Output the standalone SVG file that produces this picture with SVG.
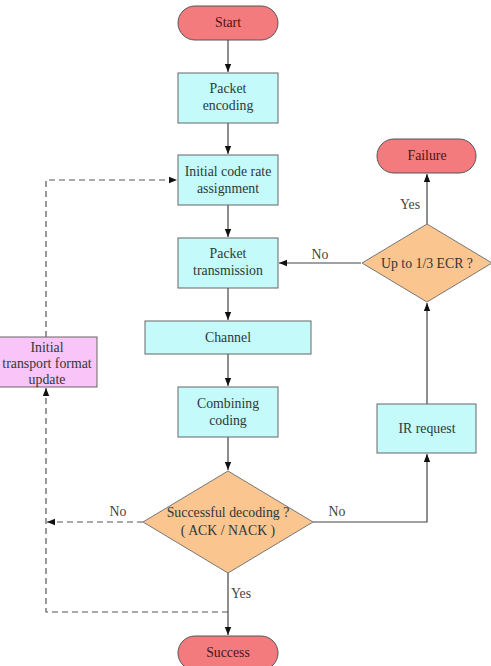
<svg xmlns="http://www.w3.org/2000/svg" width="491" height="666" viewBox="0 0 491 666">
<defs>
<style>
.term{fill:#F47B7D;stroke:#555;stroke-width:1}
.proc{fill:#C4FAFA;stroke:#666;stroke-width:1}
.dec{fill:#FBC590;stroke:#777;stroke-width:1}
.upd{fill:#F9C4F8;stroke:#666;stroke-width:1}
text{font-family:"Liberation Serif","Times New Roman",serif;font-size:13.8px;fill:#2e3838;text-anchor:middle}
.tt{fill:#4a1515}
.lbl{fill:#444}
.ln{fill:none;stroke:#444;stroke-width:1.2}
.dash{fill:none;stroke:#555;stroke-width:1.2;stroke-dasharray:6,4}
</style>
<marker id="ah" viewBox="0 0 10 10" refX="10" refY="5" markerWidth="8" markerHeight="8" markerUnits="userSpaceOnUse" orient="auto">
<path d="M0,1 L10,5 L0,9 Z" fill="#111"/>
</marker>
</defs>
<rect width="491" height="666" fill="#fff"/>
<g id="connectors">
<line class="ln" x1="228" y1="40" x2="228" y2="72" marker-end="url(#ah)"/>
<line class="ln" x1="228" y1="123" x2="228" y2="154" marker-end="url(#ah)"/>
<line class="ln" x1="228" y1="205" x2="228" y2="237" marker-end="url(#ah)"/>
<line class="ln" x1="228" y1="288" x2="228" y2="320" marker-end="url(#ah)"/>
<line class="ln" x1="228" y1="354" x2="228" y2="386" marker-end="url(#ah)"/>
<line class="ln" x1="228" y1="437" x2="228" y2="470" marker-end="url(#ah)"/>
<line class="ln" x1="228" y1="573" x2="228" y2="635" marker-end="url(#ah)"/>
<line class="ln" x1="361" y1="263" x2="279" y2="263" marker-end="url(#ah)"/>
<line class="ln" x1="427" y1="224" x2="427" y2="174" marker-end="url(#ah)"/>
<line class="ln" x1="427" y1="404" x2="427" y2="303" marker-end="url(#ah)"/>
<polyline class="ln" points="313,522 427,522 427,454" marker-end="url(#ah)"/>
<polyline class="dash" points="46,337 46,180 177,180" marker-end="url(#ah)"/>
<polyline class="dash" points="228,612 46,612 46,388" marker-end="url(#ah)"/>
<line class="dash" x1="143" y1="522" x2="47" y2="522" marker-end="url(#ah)"/>
<text class="lbl" x="320" y="259">No</text>
<text class="lbl" x="410" y="209">Yes</text>
<text class="lbl" x="118" y="516">No</text>
<text class="lbl" x="337" y="516">No</text>
<text class="lbl" x="241" y="598">Yes</text>
</g>
<g id="start"><rect class="term" x="178" y="6" width="100" height="34" rx="17"/><text class="tt" x="228" y="27">Start</text></g>
<g id="packet-encoding"><rect class="proc" x="178" y="73" width="100" height="50"/><text x="228" y="93">Packet</text><text x="228" y="110">encoding</text></g>
<g id="initial-code-rate"><rect class="proc" x="178" y="155" width="100" height="50"/><text x="228" y="176">Initial code rate</text><text x="228" y="193">assignment</text></g>
<g id="packet-transmission"><rect class="proc" x="178" y="238" width="100" height="50"/><text x="228" y="258">Packet</text><text x="228" y="275">transmission</text></g>
<g id="channel"><rect class="proc" x="145" y="321" width="166" height="33"/><text x="228" y="342">Channel</text></g>
<g id="combining-coding"><rect class="proc" x="178" y="387" width="100" height="50"/><text x="228" y="408">Combining</text><text x="228" y="425">coding</text></g>
<g id="successful-decoding"><polygon class="dec" points="228,471 313,522 228,573 143,522"/><text x="228" y="517">Successful decoding ?</text><text x="228" y="535">( ACK / NACK )</text></g>
<g id="success"><rect class="term" x="178" y="636" width="100" height="34" rx="17"/><text class="tt" x="228" y="657">Success</text></g>
<g id="ir-request"><rect class="proc" x="377" y="404" width="99" height="49"/><text x="427" y="433">IR request</text></g>
<g id="up-to-ecr"><polygon class="dec" points="427,224 492,263 427,302 362,263"/><text x="427" y="268">Up to 1/3 ECR ?</text></g>
<g id="failure"><rect class="term" x="377" y="139" width="99" height="34" rx="17"/><text class="tt" x="427" y="160">Failure</text></g>
<g id="transport-format-update"><rect class="upd" x="-3" y="337" width="100" height="50"/><text x="47" y="352">Initial</text><text x="47" y="368">transport format</text><text x="47" y="384">update</text></g>
</svg>
